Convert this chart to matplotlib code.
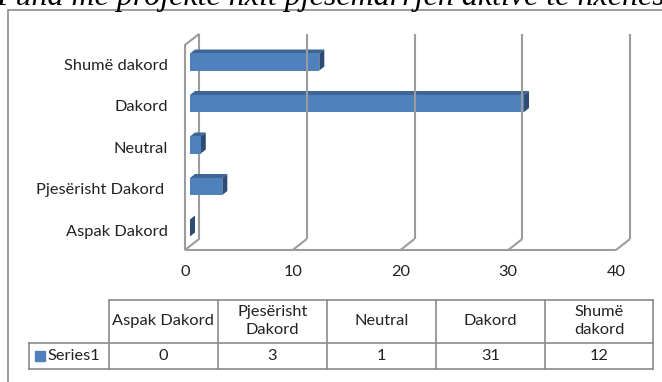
import matplotlib
matplotlib.use('Agg')
import matplotlib.pyplot as plt
from matplotlib.patches import Rectangle, Polygon

# survey answers, Series1
categories = ['Aspak Dakord', 'Pjesërisht Dakord', 'Neutral', 'Dakord', 'Shumë dakord']
header_labels = ['Aspak Dakord', 'Pjesërisht\nDakord', 'Neutral', 'Dakord', 'Shumë\ndakord']
values = [0, 3, 1, 31, 12]
series_name = 'Series1'
xticks = [0, 10, 20, 30, 40]
title = 'Puna me projekte nxit pjesëmarrjen aktive të nxënësve'

W, H = 662, 382
FONT = 'Lato'
FS = 11.8
BLUE = '#4f81bd'
BLUE_TOP = '#3d6596'
BLUE_SIDE = '#2c4c75'
GRID = '#9c9c9c'
TXT = '#222222'

fig = plt.figure(figsize=(W / 100, H / 100), dpi=100)

# background layer in pixel units: frame, heading, data table
bg = fig.add_axes([0, 0, 1, 1])
bg.set_xlim(0, W)
bg.set_ylim(H, 0)
bg.axis('off')

bg.text(-4, 5, title, family='Liberation Serif', style='italic', fontsize=23,
        ha='left', va='baseline', color='black')
bg.plot([8, 8, W], [H, 10, 10], color='#8c8c8c', lw=1.2, solid_joinstyle='miter')

# table
col_x = [29, 108.5, 218, 327, 436, 545, 653]
row_y = [300, 342.5, 369]
tcol = '#8a8a8a'
bg.plot([col_x[1], col_x[-1]], [row_y[0], row_y[0]], color=tcol, lw=1.2)
for yy in row_y[1:]:
    bg.plot([col_x[0], col_x[-1]], [yy, yy], color=tcol, lw=1.2)
bg.plot([col_x[0], col_x[0]], [row_y[1], row_y[2]], color=tcol, lw=1.2)
for xx in col_x[1:]:
    bg.plot([xx, xx], [row_y[0], row_y[2]], color=tcol, lw=1.2)
for j, (lab, v) in enumerate(zip(header_labels, values)):
    cx = (col_x[j + 1] + col_x[j + 2]) / 2
    bg.text(cx, (row_y[0] + row_y[1]) / 2, lab, family=FONT, fontsize=FS,
            ha='center', va='center', color=TXT, linespacing=1.35)
    bg.text(cx, (row_y[1] + row_y[2]) / 2, str(v), family=FONT, fontsize=FS,
            ha='center', va='center', color=TXT)
bg.add_patch(Rectangle((35, (row_y[1] + row_y[2]) / 2 - 5), 10, 10, color=BLUE))
bg.text(47, (row_y[1] + row_y[2]) / 2, series_name, family=FONT, fontsize=FS,
        ha='left', va='center', color=TXT)

# chart axes: front plane of the 3-D box
x0, x1 = 185, 616
y_top, y_floor = 45, 250
ylo, yhi = -0.434, 4.506
ax = fig.add_axes([x0 / W, (H - y_floor) / H, (x1 - x0) / W, (y_floor - y_top) / H])
ax.set_xlim(0, 40)
ax.set_ylim(ylo, yhi)
ax.axis('off')
ax.patch.set_alpha(0)

px_x = 40 / (x1 - x0)
px_y = (yhi - ylo) / (y_floor - y_top)


def d(dx, dy):
    # pixel depth offset (right, up) in data units
    return dx * px_x, dy * px_y


bx, by = d(14, 11)   # back wall
fx, fy = d(5, 4)     # bar front face
kx, ky = d(10, 8)    # bar back face

line_kw = dict(color=GRID, lw=1.5, clip_on=False, solid_capstyle='butt')

# back wall gridlines and floor diagonals
for t in xticks[1:]:
    ax.plot([t + bx, t + bx], [ylo + by, yhi + by], **line_kw)
    ax.plot([t, t + bx], [ylo, ylo + by], **line_kw)
# left wall
ax.add_patch(Polygon([(0, ylo), (bx, ylo + by), (bx, yhi + by), (0, yhi)],
                     closed=True, facecolor='white', edgecolor=GRID, lw=1.5, clip_on=False))
# floor front edge
ax.plot([0, 40], [ylo, ylo], **line_kw)

h = 0.41
for i, v in enumerate(values):
    yb, yt = i - h / 2, i + h / 2
    ax.add_patch(Polygon([(fx, yt + fy), (v + fx, yt + fy), (v + kx, yt + ky), (kx, yt + ky)],
                         closed=True, facecolor=BLUE_TOP, edgecolor='none', clip_on=False))
    ax.add_patch(Polygon([(v + fx, yb + fy), (v + kx, yb + ky), (v + kx, yt + ky), (v + fx, yt + fy)],
                         closed=True, facecolor=BLUE_SIDE, edgecolor='none', clip_on=False))
    ax.add_patch(Rectangle((fx, yb + fy), v, h, facecolor=BLUE, edgecolor='none', clip_on=False))

# category labels
for i, c in enumerate(categories):
    lab = c + ' ' if c.startswith('Pjes') else c
    ax.text(-17 * px_x, i, lab, family=FONT, fontsize=FS, ha='right', va='center',
            color=TXT, clip_on=False)

# value axis labels
for t in xticks:
    ax.text(t, ylo - 22 * px_y, str(t), family=FONT, fontsize=FS, ha='center', va='center',
            color=TXT, clip_on=False)

fig.savefig('out.png', dpi=100)
